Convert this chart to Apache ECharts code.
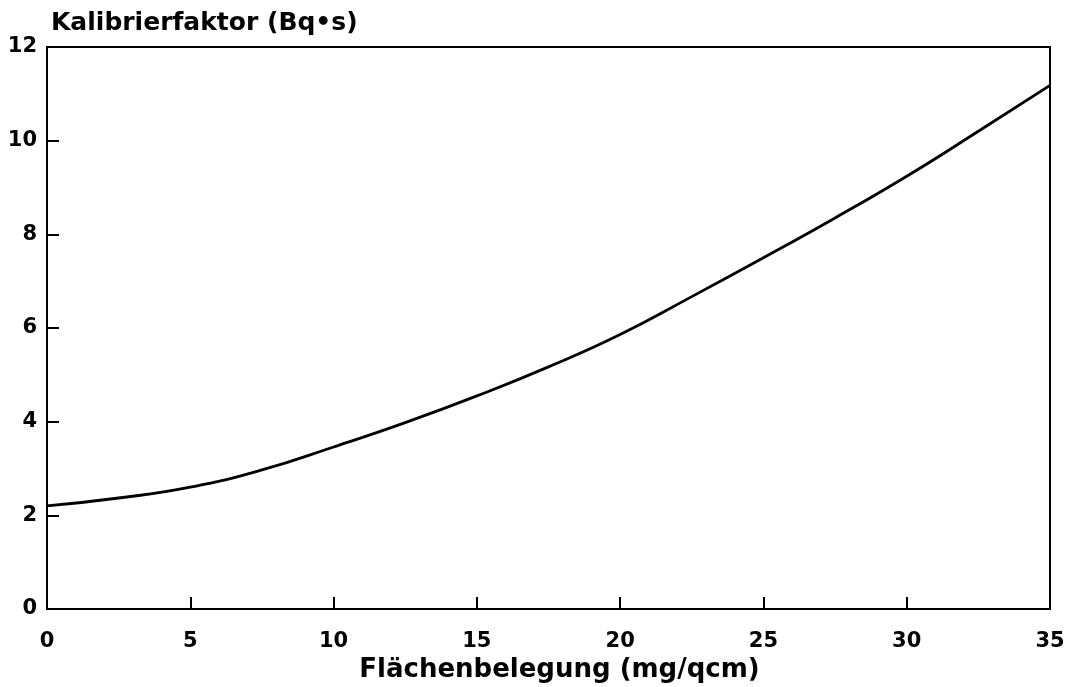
<!DOCTYPE html>
<html>
<head>
<meta charset="utf-8">
<script src="https://cdn.jsdelivr.net/npm/echarts@6/dist/echarts.min.js"></script>
<style>html,body{margin:0;padding:0;background:#fff}#c{width:1072px;height:687px}</style>
</head>
<body>
<div id="c"></div>
<script>
const xValues = [0, 2.5, 5, 7.5, 10, 12.5, 15, 17.5, 20, 22.5, 25, 27.5, 30, 32.5, 35];
const yValues = [2.2, 2.37, 2.6, 2.97, 3.46, 3.98, 4.55, 5.17, 5.86, 6.67, 7.5, 8.35, 9.24, 10.2, 11.18];
const yTitle = 'Kalibrierfaktor (Bq•s)';
const xTitle = 'Flächenbelegung (mg/qcm)';

const chart = echarts.init(document.getElementById('c'), null, {renderer: 'canvas'});
const font = '"DejaVu Sans", sans-serif';
chart.setOption({
  animation: false,
  backgroundColor: '#fff',
  title: {
    text: yTitle, left: 46, top: 6,
    textStyle: {fontFamily: font, fontWeight: 'bold', fontSize: 25, color: '#000'}
  },
  grid: {left: 47, right: 22, top: 47, bottom: 78, outerBoundsMode: 'none', containLabel: false,
         show: true, borderColor: '#000', borderWidth: 2, backgroundColor: 'transparent'},
  xAxis: {
    type: 'value', min: 0, max: 35, interval: 5,
    name: xTitle, nameLocation: 'middle', nameGap: 46,
    nameTextStyle: {fontFamily: font, fontWeight: 'bold', fontSize: 26, color: '#000', padding: [0, 0, 0, 22]},
    axisLine: {lineStyle: {color: '#000', width: 2}},
    axisTick: {inside: true, length: 12, lineStyle: {color: '#000', width: 2}},
    axisLabel: {fontFamily: font, fontWeight: 'bold', fontSize: 21, color: '#000', margin: 22},
    splitLine: {show: false}
  },
  yAxis: {
    type: 'value', min: 0, max: 12, interval: 2,
    axisLine: {show: true, lineStyle: {color: '#000', width: 2}},
    axisTick: {show: true, inside: true, length: 12, lineStyle: {color: '#000', width: 2}},
    axisLabel: {fontFamily: font, fontWeight: 'bold', fontSize: 21, color: '#000', margin: 10},
    splitLine: {show: false}
  },
  series: [{
    type: 'line', smooth: 0.5, showSymbol: false,
    data: xValues.map((x, i) => [x, yValues[i]]),
    lineStyle: {color: '#000', width: 2.8}
  }]
});
</script>
</body>
</html>
